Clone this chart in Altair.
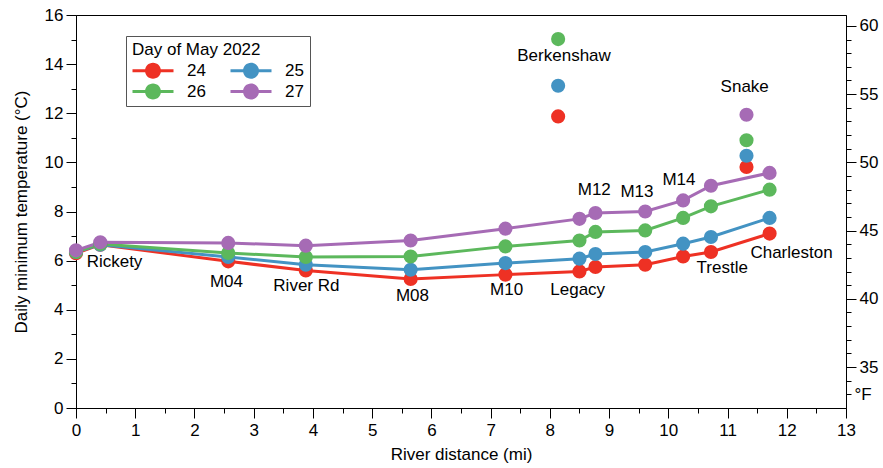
import altair as alt
import pandas as pd

FONT = "Liberation Sans"

days = ["24", "25", "26", "27"]
day_colors = ["#ee3124", "#4393c3", "#5cb85c", "#a66bb5"]

# Main-stem stations (river miles) and daily minimum temperature (°C)
main_dist = [0.0, 0.41, 2.57, 3.88, 5.65, 7.25, 8.50, 8.77, 9.61, 10.25, 10.72, 11.71]
temp_24 = [6.30, 6.65, 5.97, 5.60, 5.25, 5.43, 5.56, 5.74, 5.83, 6.17, 6.35, 7.10]
temp_25 = [6.35, 6.65, 6.15, 5.83, 5.63, 5.90, 6.08, 6.27, 6.35, 6.69, 6.96, 7.74]
temp_26 = [6.35, 6.68, 6.31, 6.15, 6.17, 6.58, 6.82, 7.17, 7.23, 7.74, 8.21, 8.89]
temp_27 = [6.42, 6.75, 6.72, 6.61, 6.82, 7.30, 7.70, 7.94, 8.00, 8.45, 9.05, 9.57]
main_temps = [temp_24, temp_25, temp_26, temp_27]

# Tributary stations (plotted as points only)
trib_dist = [8.14, 11.32]
trib_24 = [11.87, 9.81]
trib_25 = [13.12, 10.27]
trib_26 = [15.02, 10.90]
trib_27 = [None, 11.94]
trib_temps = [trib_24, trib_25, trib_26, trib_27]

# Station names and where they sit (river miles, °C)
label_text = ["Rickety", "M04", "River Rd", "M08", "M10", "Legacy", "M12", "M13",
              "M14", "Trestle", "Charleston", "Berkenshaw", "Snake"]
label_dist = [0.65, 2.54, 3.89, 5.68, 7.27, 8.47, 8.75, 9.47, 10.18, 10.91, 12.08, 8.24, 11.29]
label_temp = [5.96, 5.12, 4.96, 4.58, 4.81, 4.80, 8.89, 8.79, 9.30, 5.68, 6.31, 14.34, 13.06]

c_domain = [0, 16]
f_domain = [c * 9 / 5 + 32 for c in c_domain]

main_rows = []
for day, temps in zip(days, main_temps):
    for d, t in zip(main_dist, temps):
        main_rows.append({"day": day, "dist": d, "temp": t})
main_df = pd.DataFrame(main_rows)

point_rows = []
for day, mtemps, ttemps in zip(days, main_temps, trib_temps):
    for d, t in zip(main_dist, mtemps):
        point_rows.append({"day": day, "dist": d, "temp": t})
    for d, t in zip(trib_dist, ttemps):
        if t is not None:
            point_rows.append({"day": day, "dist": d, "temp": t})
point_df = pd.DataFrame(point_rows)

label_df = pd.DataFrame({"name": label_text, "dist": label_dist, "temp": label_temp})
f_df = pd.DataFrame({"degF": f_domain})

axis_common = dict(
    labelFont=FONT, labelFontSize=17, labelColor="black",
    titleFont=FONT, titleFontSize=17, titleFontWeight="normal", titleColor="black",
    domainColor="black", tickColor="black", tickWidth=1, domainWidth=1,
    grid=False, labelFlush=False, labelOverlap=False,
)

x_enc = alt.X(
    "dist:Q",
    scale=alt.Scale(domain=[0, 13], nice=False, zero=False),
    axis=alt.Axis(
        title="River distance (mi)",
        values=[i * 0.5 for i in range(27)],
        labelExpr="datum.value % 1 == 0 ? format(datum.value, 'd') : ''",
        tickSize={"condition": {"test": "datum.value % 1 == 0", "value": 10}, "value": 5},
        labelPadding=4, titlePadding=8,
        **axis_common,
    ),
)

y_enc = alt.Y(
    "temp:Q",
    scale=alt.Scale(domain=c_domain, nice=False, zero=False),
    axis=alt.Axis(
        title="Daily minimum temperature (°C)",
        values=list(range(0, 17)),
        labelExpr="datum.value % 2 == 0 ? format(datum.value, 'd') : ''",
        tickSize={"condition": {"test": "datum.value % 2 == 0", "value": 10}, "value": 5},
        labelPadding=3, titlePadding=14,
        **axis_common,
    ),
)

# Legend glyph: a short line with a dot in the middle
legend_symbol = ("M-1,-0.18L4.125,-0.18L4.125,0.18L-1,0.18Z"
                 "M0.5625,0A1,1,0,1,1,2.5625,0A1,1,0,1,1,0.5625,0Z")

# Line colours come from a data-driven stroke scale (same order as the days list)
lines = alt.Chart(main_df).mark_line(strokeWidth=3).encode(
    x=x_enc,
    y=y_enc,
    stroke=alt.Stroke("day:N", scale=alt.Scale(range=day_colors), legend=None),
)

points = alt.Chart(point_df).mark_circle(size=200, opacity=1).encode(
    x=x_enc,
    y=y_enc,
    color=alt.Color(
        "day:N",
        scale=alt.Scale(domain=days, range=day_colors),
        legend=alt.Legend(
            title="Day of May 2022", orient="none", legendX=50, legendY=21,
            direction="horizontal", columns=2,
            symbolType=legend_symbol, symbolSize=256,
            symbolStrokeWidth=0, symbolOpacity=1, labelOffset=38,
            labelFont=FONT, labelFontSize=17, labelColor="black",
            titleFont=FONT, titleFontSize=17, titleFontWeight="normal",
            titleColor="black", titlePadding=3, titleLimit=400,
            padding=6, strokeColor="#555555", fillColor="white",
            rowPadding=3, columnPadding=24,
        ),
    ),
)

labels = alt.Chart(label_df).mark_text(
    font=FONT, fontSize=17, color="black", align="center", baseline="middle"
).encode(x=x_enc, y=y_enc, text="name:N")

fahrenheit = alt.Chart(f_df).mark_point(opacity=0).encode(
    y=alt.Y(
        "degF:Q",
        scale=alt.Scale(domain=f_domain, nice=False, zero=False),
        axis=alt.Axis(
            orient="right", title=None,
            values=list(range(33, 61)),
            labelExpr="datum.value == 33 ? '°F' : (datum.value % 5 == 0 ? format(datum.value, 'd') : '')",
            tickSize={"condition": {"test": "datum.value % 5 == 0", "value": 10}, "value": 5},
            labelPadding=3,
            **axis_common,
        ),
    )
)

celsius = alt.layer(lines, points, labels)

chart = alt.layer(celsius, fahrenheit).resolve_scale(y="independent").properties(
    width=770,
    height=393,
    autosize=alt.AutoSizeParams(type="none"),
    padding={"left": 76, "top": 15, "right": 37, "bottom": 60},
    background="white",
).configure_view(stroke="black", strokeWidth=1)

chart.save("out.html", embed_options={"renderer": "svg", "actions": False})
